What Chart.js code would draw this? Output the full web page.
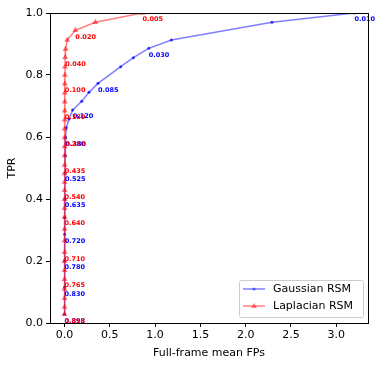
<!DOCTYPE html>
<html>
<head>
<meta charset="utf-8">
<script src="https://cdn.jsdelivr.net/npm/chart.js@4"></script>
<style>
  body { margin: 0; background: #fff; }
  canvas { display: block; }
</style>
</head>
<body>
<canvas id="rocChart" width="383" height="366"></canvas>
<script>
// Gaussian RSM curve
const gaussFP = [3.2, 2.29, 1.18, 0.93, 0.76, 0.62, 0.37, 0.27, 0.19, 0.09, 0.05, 0.02, 0.012, 0.008, 0.006, 0.004, 0.003, 0.002, 0.001, 0.001, 0.0];
const gaussTPR = [1.0, 0.970, 0.913, 0.886, 0.856, 0.827, 0.773, 0.744, 0.715, 0.687, 0.658, 0.630, 0.598, 0.540, 0.485, 0.400, 0.340, 0.286, 0.201, 0.115, 0.028];
const gaussThr = ['0.010', '', '', '0.030', '', '', '0.085', '', '', '0.120', '', '', '0.380', '', '0.525', '0.635', '', '0.720', '0.780', '0.830', '0.898'];

// Laplacian RSM curve
const lapFP = [0.86, 0.34, 0.12, 0.03, 0.012, 0.008, 0.006, 0.005, 0.004, 0.004, 0.003, 0.003, 0.003, 0.002, 0.002, 0.002, 0.002, 0.002, 0.001, 0.001, 0.001, 0.001, 0.001, 0.001, 0.001, 0.001, 0.001, 0.0, 0.0, 0.0, 0.0, 0.0, 0.0, 0.0];
const lapTPR = [1.0, 0.970, 0.944, 0.913, 0.884, 0.857, 0.827, 0.800, 0.772, 0.743, 0.714, 0.685, 0.656, 0.627, 0.598, 0.569, 0.540, 0.510, 0.482, 0.455, 0.428, 0.399, 0.370, 0.341, 0.303, 0.266, 0.228, 0.199, 0.170, 0.141, 0.110, 0.080, 0.052, 0.028];
const lapThr = ['0.005', '', '0.020', '', '', '0.040', '', '', '0.100', '', '', '0.180', '', '', '0.280', '', '', '0.435', '', '', '0.540', '', '', '0.640', '', '', '0.710', '', '', '0.765', '', '', '', '0.898'];

const xTicks = [0.0, 0.5, 1.0, 1.5, 2.0, 2.5, 3.0];
const yTicks = [0.0, 0.2, 0.4, 0.6, 0.8, 1.0];

const FONT = 'DejaVu Sans';

function toPoints(xs, ys) {
    return xs.map((x, i) => ({ x: x, y: ys[i] }));
}

// threshold labels next to the points
const thresholdLabels = {
    id: 'thresholdLabels',
    afterDatasetsDraw(chart) {
        const ctx = chart.ctx;
        ctx.save();
        ctx.font = 'bold 6.5px ' + FONT;
        ctx.textAlign = 'left';
        ctx.textBaseline = 'middle';
        [1, 0].forEach(i => {
            const ds = chart.data.datasets[i];
            const meta = chart.getDatasetMeta(i);
            ctx.fillStyle = ds.labelColor;
            meta.data.forEach((el, j) => {
                const txt = ds.thresholds[j];
                if (txt) ctx.fillText(txt, el.x, el.y + 6.5);
            });
        });
        ctx.restore();
    }
};

// full box around the axes + legend in the lower right
const frameAndLegend = {
    id: 'frameAndLegend',
    afterDraw(chart) {
        const ctx = chart.ctx;
        const a = chart.chartArea;
        ctx.save();
        ctx.strokeStyle = '#000';
        ctx.lineWidth = 1;
        ctx.strokeRect(Math.round(a.left) + 0.5, Math.round(a.top) + 0.5,
            Math.round(a.right - a.left), Math.round(a.bottom - a.top));

        // legend box
        const lx = 239, ly = 280, lw = 124, lh = 37;
        ctx.fillStyle = 'rgba(255,255,255,0.8)';
        ctx.strokeStyle = '#cccccc';
        ctx.beginPath();
        ctx.roundRect(lx + 0.5, ly + 0.5, lw, lh, 2);
        ctx.fill();
        ctx.stroke();

        const rows = [
            { y: 289, color: 'rgba(0,0,255,0.5)', name: 'Gaussian RSM', marker: 'dot' },
            { y: 306, color: 'rgba(255,0,0,0.5)', name: 'Laplacian RSM', marker: 'tri' }
        ];
        rows.forEach(r => {
            ctx.strokeStyle = r.color;
            ctx.lineWidth = 1.5;
            ctx.beginPath();
            ctx.moveTo(243, r.y);
            ctx.lineTo(265, r.y);
            ctx.stroke();
            ctx.fillStyle = r.color;
            ctx.beginPath();
            if (r.marker === 'dot') {
                ctx.arc(254, r.y, 1.5, 0, Math.PI * 2);
            } else {
                ctx.moveTo(254, r.y - 3);
                ctx.lineTo(257, r.y + 2);
                ctx.lineTo(251, r.y + 2);
                ctx.closePath();
            }
            ctx.fill();
            ctx.fillStyle = '#000';
            ctx.font = '11px ' + FONT;
            ctx.textAlign = 'left';
            ctx.textBaseline = 'middle';
            ctx.fillText(r.name, 273, r.y);
        });
        ctx.restore();
    }
};

function initializeChart() {
    const ctx = document.getElementById('rocChart').getContext('2d');
    new Chart(ctx, {
        type: 'scatter',
        data: {
            datasets: [
                {
                    label: 'Laplacian RSM',
                    data: toPoints(lapFP, lapTPR),
                    thresholds: lapThr,
                    labelColor: '#ff0000',
                    showLine: true,
                    borderColor: 'rgba(255,0,0,0.5)',
                    backgroundColor: 'rgba(255,0,0,0.55)',
                    borderWidth: 1.5,
                    pointStyle: 'triangle',
                    pointRadius: 3.5,
                    pointBorderWidth: 0,
                    order: 0
                },
                {
                    label: 'Gaussian RSM',
                    data: toPoints(gaussFP, gaussTPR),
                    thresholds: gaussThr,
                    labelColor: '#0000ff',
                    showLine: true,
                    borderColor: 'rgba(0,0,255,0.5)',
                    backgroundColor: 'rgba(0,0,255,0.75)',
                    borderWidth: 1.5,
                    pointStyle: 'circle',
                    pointRadius: 1.5,
                    pointBorderWidth: 0,
                    order: 1
                }
            ]
        },
        options: {
            responsive: false,
            animation: false,
            layout: { padding: { top: 13, right: 15, left: 0, bottom: 0 } },
            plugins: {
                legend: { display: false },
                tooltip: { enabled: false }
            },
            scales: {
                x: {
                    type: 'linear',
                    min: -0.16,
                    max: 3.35,
                    afterBuildTicks: scale => { scale.ticks = xTicks.map(v => ({ value: v })); },
                    afterFit: scale => { scale.height = 43; },
                    grid: { drawOnChartArea: false, drawTicks: true, tickLength: 4, color: '#000' },
                    border: { display: true, color: '#000' },
                    ticks: {
                        color: '#000',
                        padding: 2,
                        maxRotation: 0,
                        font: { family: FONT, size: 11 },
                        callback: v => v.toFixed(1)
                    },
                    title: {
                        display: true,
                        text: 'Full-frame mean FPs',
                        color: '#000',
                        padding: { top: 2, bottom: 6 },
                        font: { family: FONT, size: 11 }
                    }
                },
                y: {
                    type: 'linear',
                    min: 0,
                    max: 1,
                    afterBuildTicks: scale => { scale.ticks = yTicks.map(v => ({ value: v })); },
                    afterFit: scale => { scale.width = 50; },
                    grid: { drawOnChartArea: false, drawTicks: true, tickLength: 4, color: '#000' },
                    border: { display: true, color: '#000' },
                    ticks: {
                        color: '#000',
                        padding: 3,
                        font: { family: FONT, size: 11 },
                        callback: v => v.toFixed(1)
                    },
                    title: {
                        display: true,
                        text: 'TPR',
                        color: '#000',
                        padding: { top: 6, bottom: 0 },
                        font: { family: FONT, size: 11 }
                    }
                }
            }
        },
        plugins: [thresholdLabels, frameAndLegend]
    });
}

document.addEventListener('DOMContentLoaded', initializeChart);
</script>
</body>
</html>
